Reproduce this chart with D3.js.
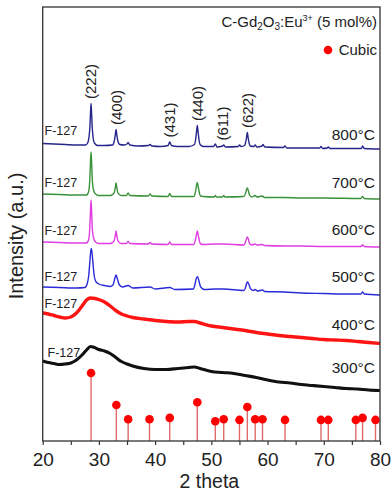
<!DOCTYPE html>
<meta charset="utf-8">
<style>
body { margin: 0; background: #fff; }
text { font-family: "Liberation Sans", Arial, sans-serif; fill: #222; }
</style>
<svg width="391" height="495"></svg>
<script src="https://cdn.jsdelivr.net/npm/d3@7"></script>
<script>
// XRD patterns, [2theta, intensity a.u.] relative to each trace's own baseline at 20 deg
const s800 = [[20,0],[22,-0.5],[24,-1],[26,-1.5],[27.6,-1.5],[28.0,0.5],[28.25,7],[28.4,17],[28.5,30],[28.6,40],[28.7,30],[28.8,17],[28.95,7],[29.2,0.5],[29.8,-2],[31,-2],[32.4,-1.5],[32.75,3],[32.9,8],[33.05,14],[33.2,8],[33.35,3],[33.7,-1],[34.5,-1.5],[35.0,-0.5],[35.2,1],[35.5,-1.5],[37,-2.5],[38.8,-2],[39.1,-1],[39.4,-2.5],[41,-3],[42.3,-2],[42.6,1.5],[42.9,-2],[44,-3],[46,-3],[47.0,-1],[47.2,4],[47.35,11],[47.5,18],[47.65,11],[47.8,4],[48.0,-1],[48.6,-3],[50.4,-3],[50.7,-0.5],[51.0,-3.5],[52.0,-2.5],[52.2,-1.5],[52.5,-3.5],[54.8,-3],[55.0,-1.5],[55.3,-3],[55.9,-2],[56.1,1],[56.25,5.5],[56.4,11],[56.55,5.5],[56.7,1],[56.9,-2.5],[57.6,-3],[57.8,-1.5],[58.1,-3.5],[59.0,-2.5],[59.2,-1],[59.5,-3.5],[62.8,-4],[63.1,-2.5],[63.4,-4.5],[66,-4.5],[69.3,-4.5],[69.5,-3],[69.8,-5],[70.6,-4.5],[70.8,-3.5],[71.1,-5],[74,-5],[76.7,-5],[76.9,-2.5],[77.2,-5],[80,-5.5]];
const s700 = [[20,0],[23,-0.5],[26,-1],[27.8,-1],[28.2,3],[28.4,17],[28.5,32],[28.6,42],[28.7,32],[28.8,17],[29.0,5],[29.4,0],[30,-1.5],[32,-1.5],[32.7,1],[32.9,6],[33.05,11],[33.2,6],[33.4,1],[33.9,-1.5],[34.9,-1.5],[35.2,1],[35.5,-1.5],[38.8,-2],[39.1,0],[39.4,-2],[42.3,-2.5],[42.6,0.5],[42.9,-2.5],[46.9,-2.5],[47.2,3],[47.35,8],[47.5,11.5],[47.65,8],[47.8,3],[48.1,-2],[48.6,-2.5],[50.5,-3],[50.7,-1.5],[50.9,-3],[52.0,-3],[52.2,-1.5],[52.4,-3],[55.8,-2.5],[56.1,1],[56.3,5],[56.4,6],[56.55,4],[56.8,-1],[57.2,-3],[57.8,-1.5],[58.1,-3],[59.1,-2],[59.4,-3.5],[63,-3.5],[66,-4],[70,-4],[76.6,-4.5],[76.9,-2.5],[77.2,-4.5],[80,-5]];
const s600 = [[20,0],[23,-0.5],[26,-1],[27.8,-1],[28.2,3],[28.4,17],[28.5,31],[28.6,42],[28.7,31],[28.8,16],[29.0,5],[29.4,0],[30,-1.5],[32,-1.5],[32.7,1],[32.9,6],[33.05,11],[33.2,6],[33.4,1],[33.9,-1.5],[34.9,-1.5],[35.2,0.5],[35.5,-1.5],[38.8,-2],[39.1,-0.5],[39.4,-2],[42.3,-2.5],[42.6,0],[42.9,-2.5],[46.9,-2.5],[47.2,3],[47.35,7.5],[47.5,11],[47.65,7.5],[47.8,3],[48.1,-2],[48.6,-2.5],[50.7,-2],[52.2,-2],[55.8,-3],[56.1,0.5],[56.3,4],[56.4,5],[56.55,3.5],[56.8,-1.5],[57.2,-3],[57.8,-2],[58.1,-3],[59.1,-2.5],[59.4,-3.5],[63,-4],[66,-4],[70,-4.5],[76.6,-4.5],[76.9,-3],[77.2,-4.5],[80,-5]];
const s500 = [[20,0],[23,-0.5],[26,-1],[27.5,-0.5],[27.9,3],[28.2,12],[28.4,26],[28.55,36],[28.65,38.5],[28.8,33],[29.0,20],[29.2,10],[29.5,5],[30,3],[31,1.5],[32,0.5],[32.5,2],[32.8,8],[33.05,12],[33.3,8],[33.6,2.5],[34.2,0],[35.2,1.5],[36,-1],[39.1,0],[40,-2],[42.6,-0.5],[43.5,-2.5],[46.8,-2],[47.1,3],[47.35,9],[47.55,10.3],[47.8,6],[48.1,0],[48.8,-2.5],[50.7,-2],[52.2,-2],[55.8,-3.5],[56.1,0],[56.3,4],[56.45,5],[56.65,3],[57.0,-2],[57.5,-3.5],[57.8,-2.5],[58.2,-4],[59.1,-3],[59.5,-4.5],[63,-5],[66,-6],[70,-6.5],[74,-7],[76.6,-7],[76.9,-5],[77.2,-7],[80,-8]];
const s400 = [[20,0],[21,-1],[22,-2.5],[23,-4],[24,-5],[25,-4],[26,0],[27,7],[27.8,13],[28.5,15],[29.3,14.5],[30.2,13],[31,11],[32,7],[33,2.5],[34,-1],[35,-3],[36,-4.5],[38,-6],[40,-7.5],[42,-8.5],[44,-9],[46,-8.5],[47,-8.5],[48,-10],[50,-13],[52,-14.5],[54,-16],[56,-17.5],[58,-19.5],[60,-21],[62,-22.5],[64,-23.5],[66,-24.5],[68,-25.5],[70,-26.5],[72,-27],[74,-27.5],[76,-28.5],[78,-29.5],[80,-30.5]];
const s300 = [[20,0],[21,-1.5],[22,-2.5],[23,-3.5],[24,-3],[25,-2],[26,1],[27,6],[27.8,11],[28.5,14.5],[29.2,13.5],[30,11.5],[31,10],[32,7.5],[33,3.5],[34,-0.5],[35,-3],[36,-5],[38,-7.5],[40,-8.5],[42,-8.5],[44,-7.5],[46,-6.5],[47,-6],[48,-7.5],[50,-10.5],[52,-11.5],[54,-12.5],[56,-14.5],[58,-16.5],[60,-19],[62,-21],[64,-22],[66,-23.5],[68,-24.5],[70,-25.5],[72,-26.5],[74,-27.5],[76,-28],[78,-29],[80,-29.5]];

const temps = ["800°C", "700°C", "600°C", "500°C", "400°C", "300°C"];
const offsets = [297.5, 247, 199, 154, 128, 80];
const series = [s800, s700, s600, s500, s400, s300];
const colors = ["#25258a", "#3a923a", "#e03ce0", "#2a2ad8", "#ff1414", "#111111"];

// reference pattern (cubic Gd2O3), relative intensity
const refPos = [28.6, 33.1, 35.2, 39.0, 42.6, 47.5, 50.7, 52.2, 55.0, 56.4, 57.8, 59.1, 63.1, 69.5, 70.8, 75.7, 76.9, 79.2];
const refInt = [100, 53, 32, 32, 34, 57, 29, 32, 31, 50, 32, 32, 31, 31, 31, 31, 34, 31];

const hkl = ["(222)", "(400)", "(431)", "(440)", "(611)", "(622)"];
const hklPos = [28.6, 33.1, 42.6, 47.5, 52.1, 56.4];

const xTicks = [20, 30, 40, 50, 60, 70, 80];
const xMinor = [25, 35, 45, 55, 65, 75];

const svg = d3.select("svg");
const L = 42.7, R = 380, T = 7, B = 441;

const x = d3.scaleLinear().domain([20, 80]).range([L, R]);
const y = d3.scaleLinear().domain([0, 434]).range([B, T]);
const stickScale = 0.68;

// reference sticks
const sticks = svg.append("g");
sticks.selectAll("line")
  .data(refPos)
  .enter().append("line")
  .attr("x1", d => x(d)).attr("x2", d => x(d))
  .attr("y1", y(0))
  .attr("y2", (d, i) => y(refInt[i] * stickScale))
  .attr("stroke", "#e06a6a")
  .attr("stroke-width", 1.4);
sticks.selectAll("circle")
  .data(refPos)
  .enter().append("circle")
  .attr("cx", d => x(d))
  .attr("cy", (d, i) => y(refInt[i] * stickScale))
  .attr("r", 4.3)
  .attr("fill", "#ff0000");

// traces
const line = d3.line().curve(d3.curveMonotoneX);
series.forEach((s, i) => {
  const noisy = i >= 4;
  svg.append("path")
    .datum(s)
    .attr("fill", "none")
    .attr("stroke", colors[i])
    .attr("stroke-width", noisy ? (i == 4 ? 3.4 : 3.1) : 1.4)
    .attr("stroke-linejoin", "round")
    .attr("d", line.x(d => x(d[0])).y(d => y(d[1] + offsets[i])));
});

// sample labels
const fBase = [135, 187, 235, 281, 308, 357];
const tBase = [140, 188, 235, 282, 330, 373];
temps.forEach((t, i) => {
  svg.append("text")
    .attr("x", i == 5 ? 47.5 : 44.5).attr("y", fBase[i])
    .attr("font-size", 12.5)
    .text("F-127");
  svg.append("text")
    .attr("x", 375).attr("y", tBase[i])
    .attr("text-anchor", "end")
    .attr("font-size", 15.5)
    .text(t);
});

// miller indices above the 800 trace
hkl.forEach((h, i) => {
  const near = s800.filter(d => Math.abs(d[0] - hklPos[i]) < 0.3);
  const top = d3.max(near, d => d[1]) + offsets[0];
  svg.append("text")
    .attr("transform", `translate(${x(hklPos[i])},${y(top) - 4.5}) rotate(-90)`)
    .attr("dy", "0.35em")
    .attr("font-size", 15)
    .text(h);
});

// title and legend
const title = svg.append("text")
  .attr("x", 377).attr("y", 27)
  .attr("text-anchor", "end")
  .attr("font-size", 15);
title.append("tspan").text("C-Gd");
title.append("tspan").attr("font-size", 10).attr("dy", 3).text("2");
title.append("tspan").attr("dy", -3).text("O");
title.append("tspan").attr("font-size", 10).attr("dy", 3).text("3");
title.append("tspan").attr("dy", -3).text(":Eu");
title.append("tspan").attr("font-size", 9).attr("dy", -6).text("3+");
title.append("tspan").attr("dy", 6).text(" (5 mol%)");

svg.append("circle").attr("cx", 328).attr("cy", 50).attr("r", 4.3).attr("fill", "#ff0000");
svg.append("text").attr("x", 377).attr("y", 55).attr("text-anchor", "end")
  .attr("font-size", 15).text("Cubic");

// axes
const ax = svg.append("g").attr("transform", `translate(0,${B})`)
  .call(d3.axisBottom(x).tickValues(xTicks).tickSize(4).tickPadding(8));
ax.select(".domain").remove();
ax.selectAll("text").attr("font-size", 19).attr("font-family", "Liberation Sans, Arial, sans-serif").attr("fill", "#222");
ax.selectAll("line").attr("stroke", "#333").attr("stroke-width", 1.2);

const axm = svg.append("g").attr("transform", `translate(0,${B})`)
  .call(d3.axisBottom(x).tickValues(xMinor).tickSize(4).tickFormat(""));
axm.select(".domain").remove();
axm.selectAll("line").attr("stroke", "#333").attr("stroke-width", 1.2);

svg.append("rect")
  .attr("x", L).attr("y", T).attr("width", R - L).attr("height", B - T)
  .attr("fill", "none").attr("stroke", "#333").attr("stroke-width", 1.3);

svg.append("text")
  .attr("x", (L + R) / 2 - 2).attr("y", 488)
  .attr("text-anchor", "middle").attr("font-size", 19.5)
  .text("2 theta");

svg.append("text")
  .attr("transform", "translate(23,236) rotate(-90)")
  .attr("text-anchor", "middle").attr("font-size", 20)
  .text("Intensity (a.u.)");
</script>
